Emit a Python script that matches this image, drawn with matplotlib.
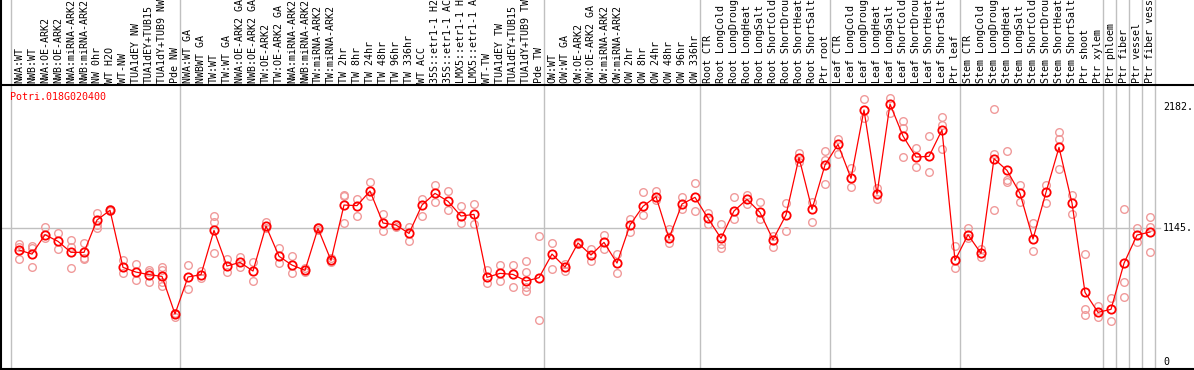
import matplotlib
matplotlib.use("Agg")
import matplotlib.pyplot as plt
import matplotlib.transforms as mtransforms

# sample labels (left to right)
labels = [
    "NWA:WT", "NWB:WT", "NWA:OE-ARK2", "NWB:OE-ARK2", "NWA:miRNA-ARK2", "NWB:miRNA-ARK2",
    "NW 0hr", "WT H2O", "WT-NW", "TUA1dEY NW", "TUA1dEY+TUB15 NW", "TUA1dY+TUB9 NW", "Pde NW",
    "NWA:WT GA", "NWBWT GA", "TW:WT", "TW:WT GA", "NWA:OE-ARK2 GA", "NWB:OE-ARK2 GA",
    "TW:OE-ARK2", "TW:OE-ARK2 GA", "NWA:miRNA-ARK2", "NWB:miRNA-ARK2", "TW:miRNA-ARK2",
    "TW:miRNA-ARK2", "TW 2hr", "TW 8hr", "TW 24hr", "TW 48hr", "TW 96hr", "TW 336hr", "WT ACC",
    "35S::etr1-1 H2O", "35S::etr1-1 ACC", "LMX5::etr1-1 H2O", "LMX5::etr1-1 ACC", "WT-TW",
    "TUA1dEY TW", "TUA1dEY+TUB15 TW", "TUA1dY+TUB9 TW", "Pde TW",
    "OW:WT", "OW:WT GA", "OW:OE-ARK2", "OW:OE-ARK2 GA", "OW:miRNA-ARK2", "OW:miRNA-ARK2",
    "OW 2hr", "OW 8hr", "OW 24hr", "OW 48hr", "OW 96hr", "OW 336hr",
    "Root CTR", "Root LongCold", "Root LongDrought", "Root LongHeat", "Root LongSalt",
    "Root ShortCold", "Root ShortDrought", "Root ShortHeat", "Root ShortSalt", "Ptr root",
    "Leaf CTR", "Leaf LongCold", "Leaf LongDrought", "Leaf LongHeat", "Leaf LongSalt",
    "Leaf ShortCold", "Leaf ShortDrought", "Leaf ShortHeat", "Leaf ShortSalt", "Ptr leaf",
    "Stem CTR", "Stem LongCold", "Stem LongDrought", "Stem LongHeat", "Stem LongSalt",
    "Stem ShortCold", "Stem ShortDrought", "Stem ShortHeat", "Stem ShortSalt", "Ptr shoot",
    "Ptr xylem", "Ptr phloem", "Ptr fiber", "Ptr vessel", "Ptr fiber vessel",
]

# mean expression per sample
means = [
    959, 924, 1090, 1033, 939, 939, 1216, 1299, 810, 770, 748, 733, 411,
    728, 748, 1127, 822, 853, 779, 1164, 905, 830, 785, 1144, 870,
    1344, 1339, 1464, 1190, 1173, 1101, 1344, 1444, 1376, 1250, 1264,
    725, 759, 750, 693, 722,
    924, 813, 1019, 916, 1024, 847, 1173, 1333, 1416, 1059, 1353, 1410,
    1230, 1059, 1293, 1393, 1281, 1047, 1259, 1750, 1307, 1687,
    1864, 1573, 2158, 1438, 2209, 1935, 1755, 1761, 1987, 870,
    1090, 930, 1741, 1641, 1444, 1053, 1453, 1838, 1361, 596, 425,
    451, 845, 1087, 1113,
]

# replicate values per sample
reps = [
    [1010, 987, 879], [993, 973, 813], [1153, 1064], [1104, 965], [1044, 987, 805],
    [1016, 887, 879], [1276, 1173, 1144], [1310, 1293], [873, 759], [836, 699],
    [787, 773, 682], [816, 787, 688, 648], [416, 382], [827, 622], [779, 722],
    [1250, 1196, 930], [882, 768], [902, 813], [859, 693], [1196, 1144], [973, 845],
    [905, 759], [802, 773], [1159, 1130], [887, 859], [1430, 1421, 1187], [1396, 1253],
    [1538, 1421], [1264, 1124], [1179, 1159], [1153, 1039], [1396, 1253], [1516, 1373],
    [1461, 1299], [1336, 1193], [1350, 1179], [787, 679], [827, 696], [827, 639],
    [865, 770, 645, 611], [1079, 356],
    [1016, 793], [839, 782], [1030, 1007], [967, 867], [1087, 965], [927, 759],
    [1224, 1110], [1456, 1259], [1464, 1387], [1139, 1022], [1410, 1307], [1533, 1290],
    [1273, 1179], [1179, 1007, 973], [1410, 1221], [1430, 1350], [1370, 1221],
    [1082, 987], [1359, 1122], [1792, 1710], [1373, 1201], [1807, 1730, 1524],
    [1907, 1778], [1658, 1498], [2252, 2087], [1487, 1396], [2264, 2129],
    [2067, 2001, 1755], [1830, 1667], [1935, 1624], [2098, 2029, 1824], [993, 807],
    [1150, 1059], [965, 902], [2166, 1778, 1299], [1807, 1558, 1544], [1516, 1367],
    [1193, 953], [1516, 1359], [1972, 1907, 1653], [1430, 1264], [924, 453, 402],
    [482, 382], [551, 348], [1307, 682, 556], [1144, 1030], [1239, 1159, 942],
]

# group boundaries (after these sample positions)
group_edges = [-1, 12, 40, 52, 62, 72, 83, 84, 85, 86, 87]
ref_values = [2182, 1145, 0]
ref_text = ["2182.", "1145.", "0"]
gene = "Potri.018G020400"
max_chars = 14  # the header only has room for this many characters

mono = "DejaVu Sans Mono"
fig = plt.figure(figsize=(11.94, 3.70), dpi=100)
ax = fig.add_axes([0, 1 / 370, 1, 284 / 370])

xs = list(range(len(means)))

# replicates
rx = []
ry = []
for i, r in enumerate(reps):
    for v in r:
        rx.append(i)
        ry.append(v)
ax.plot(rx, ry, linestyle="none", marker="o", ms=5.5, mfc="none",
        mec="#f09a9a", mew=1.0, zorder=2)

# means
ax.plot(xs, means, color="red", lw=0.9, marker="o", ms=6, mfc="none",
        mec="red", mew=1.3, zorder=3)

ax.set_xlim(-19 / 13, (1194 - 19) / 13)
ax.set_ylim(-60, 2372)

# group separators, drawn through the label area too
for e in group_edges:
    ax.axvline(e + 0.42, ymin=0, ymax=1.31, color="#c0c0c0", lw=1.0,
               clip_on=False, zorder=1)

ax.axhline(1145, xmin=0, xmax=1160 / 1194, color="#c0c0c0", lw=1.0, zorder=1)

ytrans = mtransforms.blended_transform_factory(ax.transAxes, ax.transData)
for v, t in zip(ref_values, ref_text):
    ax.text(1163 / 1194, v, t, transform=ytrans, ha="left", va="center",
            family=mono, fontsize=7.2, color="black")

# sample labels above the plot
trans = mtransforms.blended_transform_factory(ax.transData, ax.transAxes)
for i, lab in enumerate(labels):
    ax.text(i, 1 + 2 / 284, lab[:max_chars].rstrip(), transform=trans, rotation=90,
            ha="center", va="bottom", family=mono, fontsize=7.2, color="black",
            clip_on=False)

ax.text(10 / 1194, (369 - 97) / 284, gene, transform=ax.transAxes, ha="left",
        va="center", family=mono, fontsize=7.2, color="red")

ax.set_xticks([])
ax.set_yticks([])
for s in ["top", "bottom", "left"]:
    ax.spines[s].set_linewidth(1.5)
    ax.spines[s].set_color("black")
ax.spines["right"].set_visible(False)

fig.add_artist(plt.Line2D([0.0005, 0.0005], [0, 1], color="black", lw=1.5))

fig.savefig("out.png", dpi=100)
